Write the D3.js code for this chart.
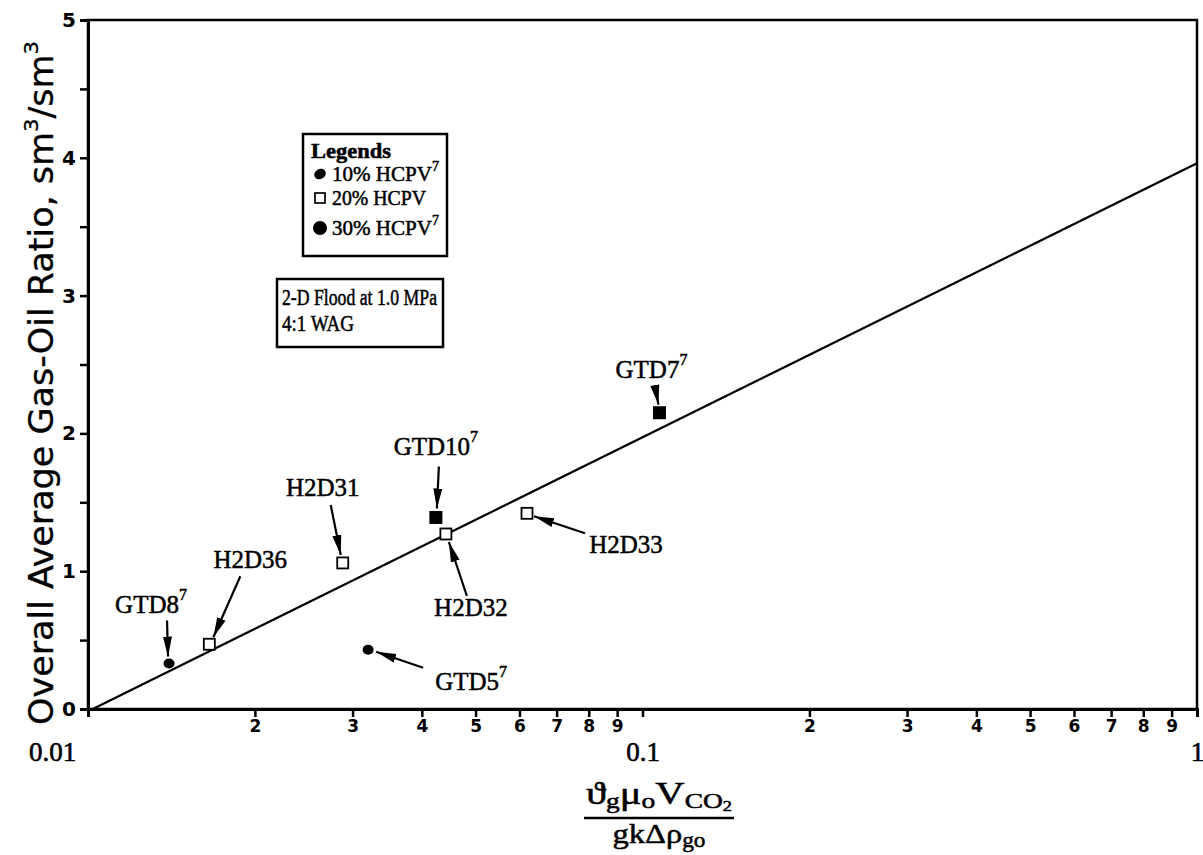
<!DOCTYPE html>
<html><head><meta charset="utf-8">
<script src="https://cdn.jsdelivr.net/npm/d3@7"></script>
<style>
body{margin:0;background:#fff;}
svg{display:block;}
.serif{font-family:"Liberation Serif","DejaVu Serif",serif;fill:#000;stroke:#000;stroke-width:0.5px;}
</style></head>
<body>
<svg id="c" width="1203" height="855"></svg>
<script>
// ---- data ----
const seriesNames = ["10% HCPV", "20% HCPV", "30% HCPV"];
const runNames   = ["GTD8", "GTD5", "H2D36", "H2D31", "H2D32", "H2D33", "GTD10", "GTD7"];
const runSeries  = [0, 0, 1, 1, 1, 1, 2, 2];
const runX       = [0.0140, 0.0320, 0.01655, 0.0288, 0.0442, 0.0619, 0.0424, 0.1073];
const runY       = [0.33, 0.43, 0.47, 1.06, 1.27, 1.42, 1.39, 2.15];
const runRef     = [true, true, false, false, false, false, true, true];
const fitX = [0.0102, 1];
const fitY = [0, 3.96];
const yTicks = [0, 0.5, 1, 1.5, 2, 2.5, 3, 3.5, 4, 4.5, 5];
const xMajor = [0.01, 0.1, 1];
const xMajorLabels = ["0.01", "0.1", "1"];
const xMinorDigits = [2, 3, 4, 5, 6, 7, 8, 9];

// annotation layout (label centre and arrow start/end relative to point)
const annLayout = {
  GTD8:  {lx:-18, ly:-57, ax:-2, ay:-43, bx:-1, by:-7},
  GTD5:  {lx:103, ly:34,  ax:55, ay:18, bx:8, by:2},
  H2D36: {lx:41,  ly:-82, ax:31, ay:-68, bx:4, by:-7},
  H2D31: {lx:-20, ly:-73, ax:-12, ay:-58, bx:-2, by:-8},
  H2D32: {lx:25,  ly:76,  ax:21, ay:62, bx:3, by:8},
  H2D33: {lx:99,  ly:34,  ax:58, ay:20, bx:7, by:3},
  GTD10: {lx:0,   ly:-68, ax:3, ay:-51, bx:1, by:-9},
  GTD7:  {lx:-8,  ly:-41, ax:-4, ay:-24, bx:-1, by:-8}
};

const svg = d3.select("#c");
const L = 88, R = 1197, T = 20, B = 709;
const x = d3.scaleLog().domain([0.01, 1]).range([L, R]);
const y = d3.scaleLinear().domain([0, 5]).range([B, T]);
const SANS = "\"DejaVu Sans\",\"Liberation Sans\",sans-serif";
const SERIF = "\"Liberation Serif\",\"DejaVu Serif\",serif";

svg.append("defs").append("marker")
  .attr("id","arr").attr("markerUnits","userSpaceOnUse")
  .attr("viewBox","0 0 20 10").attr("markerWidth",20).attr("markerHeight",10)
  .attr("refX",20).attr("refY",5).attr("orient","auto")
  .append("path").attr("d","M0,0.5 L20,5 L0,9.5 Z").attr("fill","#000");

// frame
svg.append("rect").attr("x",L).attr("y",T).attr("width",R-L).attr("height",B-T)
  .attr("fill","none").attr("stroke","#000").attr("stroke-width",2.5);

// y axis
const yAxis = d3.axisLeft(y).tickValues(yTicks).tickSize(8).tickPadding(4)
  .tickFormat(d => Number.isInteger(d) ? d : "");
const gy = svg.append("g").attr("transform",`translate(${L},0)`).call(yAxis);
gy.select(".domain").attr("stroke-width",3);
gy.selectAll(".tick line").attr("stroke-width",2.5);
gy.selectAll(".tick text").style("font-size","20px").style("font-family",SANS).style("font-weight","bold");

// x axis minor/major ticks
const allX = [];
[0.01, 0.1].forEach(dec => { allX.push(dec); xMinorDigits.forEach(k => allX.push(dec*k)); });
allX.push(1);
const xAxis = d3.axisBottom(x).tickValues(allX).tickSize(8).tickPadding(3)
  .tickFormat(d => { const k = Math.round(d / Math.pow(10, Math.floor(Math.log10(d)+1e-9))); return k===1 ? "" : k; });
const gx = svg.append("g").attr("transform",`translate(0,${B})`).call(xAxis);
gx.select(".domain").attr("stroke-width",3);
gx.selectAll(".tick line").attr("stroke-width",2.5);
gx.selectAll(".tick text").style("font-size","17px").style("font-family",SANS).style("font-weight","bold");

const xAxis2 = d3.axisBottom(x).tickValues(xMajor).tickSize(0).tickPadding(33)
  .tickFormat((d,i) => xMajorLabels[i]);
const gx2 = svg.append("g").attr("transform",`translate(0,${B})`).call(xAxis2);
gx2.select(".domain").remove();
gx2.selectAll(".tick text").style("font-size","27px").style("font-family",SERIF)
  .style("font-weight","normal").attr("stroke","#000").attr("stroke-width",0.6)
  .attr("dx",(d,i) => i===0 ? -36 : 0);

// fit line
svg.append("line")
  .attr("x1",x(fitX[0])).attr("y1",y(fitY[0]))
  .attr("x2",x(fitX[1])).attr("y2",y(fitY[1]))
  .attr("stroke","#000").attr("stroke-width",2.2);

// markers
function drawMarker(g, s, cx, cy){
  if (s===0) g.append("ellipse").attr("cx",cx).attr("cy",cy).attr("rx",5.5).attr("ry",5).attr("fill","#000");
  else if (s===1) g.append("rect").attr("x",cx-5.5).attr("y",cy-5.5).attr("width",11).attr("height",11)
      .attr("fill","#fff").attr("stroke","#000").attr("stroke-width",1.8);
  else g.append("rect").attr("x",cx-6.5).attr("y",cy-6.5).attr("width",13).attr("height",13).attr("fill","#000");
}
const gp = svg.append("g");
runNames.forEach((n,i) => drawMarker(gp, runSeries[i], x(runX[i]), y(runY[i])));

// annotations
const ga = svg.append("g");
runNames.forEach((n,i) => {
  const a = annLayout[n], px = x(runX[i]), py = y(runY[i]);
  ga.append("line").attr("x1",px+a.ax).attr("y1",py+a.ay).attr("x2",px+a.bx).attr("y2",py+a.by)
    .attr("stroke","#000").attr("stroke-width",2.2).attr("marker-end","url(#arr)");
  const t = ga.append("text").attr("class","serif").attr("x",px+a.lx).attr("y",py+a.ly)
    .attr("text-anchor","middle").attr("dominant-baseline","middle").attr("font-size",25);
  t.append("tspan").text(n);
  if (runRef[i]) t.append("tspan").attr("font-size",16).attr("dy",-11).text("7");
});

// legend box
const lg = svg.append("g");
lg.append("rect").attr("x",303).attr("y",134).attr("width",144).attr("height",122)
  .attr("fill","#fff").attr("stroke","#000").attr("stroke-width",2.5);
lg.append("text").attr("class","serif").attr("x",311).attr("y",158).attr("font-size",21)
  .attr("font-weight","bold").attr("textLength",80).attr("lengthAdjust","spacingAndGlyphs").text("Legends");
const legY = [181, 205, 235];
const legMarkers = [
  g => g.append("ellipse").attr("rx",6).attr("ry",5).attr("fill","#000").attr("transform","rotate(-30)"),
  g => g.append("rect").attr("x",-5).attr("y",-5).attr("width",10).attr("height",10).attr("fill","#fff").attr("stroke","#000").attr("stroke-width",1.7),
  g => g.append("circle").attr("r",7).attr("fill","#000")
];
const legLen = [107, 94, 107];
seriesNames.forEach((s,i) => {
  const g = lg.append("g").attr("transform",`translate(320,${legY[i]-7})`);
  legMarkers[i](g);
  const t = lg.append("text").attr("class","serif").attr("x",332).attr("y",legY[i]).attr("font-size",21)
    .attr("textLength",legLen[i]).attr("lengthAdjust","spacingAndGlyphs");
  t.append("tspan").text(s);
  if (i!==1) t.append("tspan").attr("font-size",14).attr("dy",-10).text("7");
});

// condition box
const cb = svg.append("g");
cb.append("rect").attr("x",277).attr("y",279).attr("width",166).attr("height",68)
  .attr("fill","#fff").attr("stroke","#000").attr("stroke-width",2.5);
cb.append("text").attr("class","serif").attr("x",282).attr("y",305).attr("font-size",23)
  .attr("textLength",155).attr("lengthAdjust","spacingAndGlyphs").text("2-D Flood at 1.0 MPa");
cb.append("text").attr("class","serif").attr("x",282).attr("y",331).attr("font-size",23)
  .attr("textLength",72).attr("lengthAdjust","spacingAndGlyphs").text("4:1 WAG");

// y axis label
const yl = svg.append("text").attr("transform","translate(53,383) rotate(-90)")
  .attr("text-anchor","middle").attr("font-size",33)
  .attr("textLength",684).attr("lengthAdjust","spacingAndGlyphs")
  .attr("font-family","\"Liberation Sans Narrow\",\"DejaVu Sans Condensed\",\"Liberation Sans\",sans-serif")
  .attr("fill","#000").attr("stroke","#000").attr("stroke-width",0.3);
yl.append("tspan").text("Overall Average Gas-Oil Ratio, sm");
yl.append("tspan").attr("font-size",20).attr("dy",-15).text("3");
yl.append("tspan").attr("dy",15).text("/sm");
yl.append("tspan").attr("font-size",20).attr("dy",-15).text("3");

// x axis label (fraction)
const cx = 659;
const num = svg.append("text").attr("class","serif").attr("x",cx).attr("y",804)
  .attr("text-anchor","middle").attr("font-size",31)
  .attr("textLength",146).attr("lengthAdjust","spacingAndGlyphs");
num.append("tspan").text("\u03D1");
num.append("tspan").attr("font-size",21).attr("dy",4).text("g");
num.append("tspan").attr("dy",-4).text("\u03BC");
num.append("tspan").attr("font-size",21).attr("dy",4).text("o");
num.append("tspan").attr("dy",-4).text("V");
num.append("tspan").attr("font-size",21).attr("dy",4).text("CO");
num.append("tspan").attr("font-size",14).attr("dy",3).text("2");
svg.append("line").attr("x1",584).attr("x2",734).attr("y1",818).attr("y2",818)
  .attr("stroke","#000").attr("stroke-width",2.5);
const den = svg.append("text").attr("class","serif").attr("x",cx).attr("y",843)
  .attr("text-anchor","middle").attr("font-size",28)
  .attr("textLength",93).attr("lengthAdjust","spacingAndGlyphs");
den.append("tspan").text("gk\u0394\u03C1");
den.append("tspan").attr("font-size",20).attr("dy",4).text("go");
</script>
</body></html>
